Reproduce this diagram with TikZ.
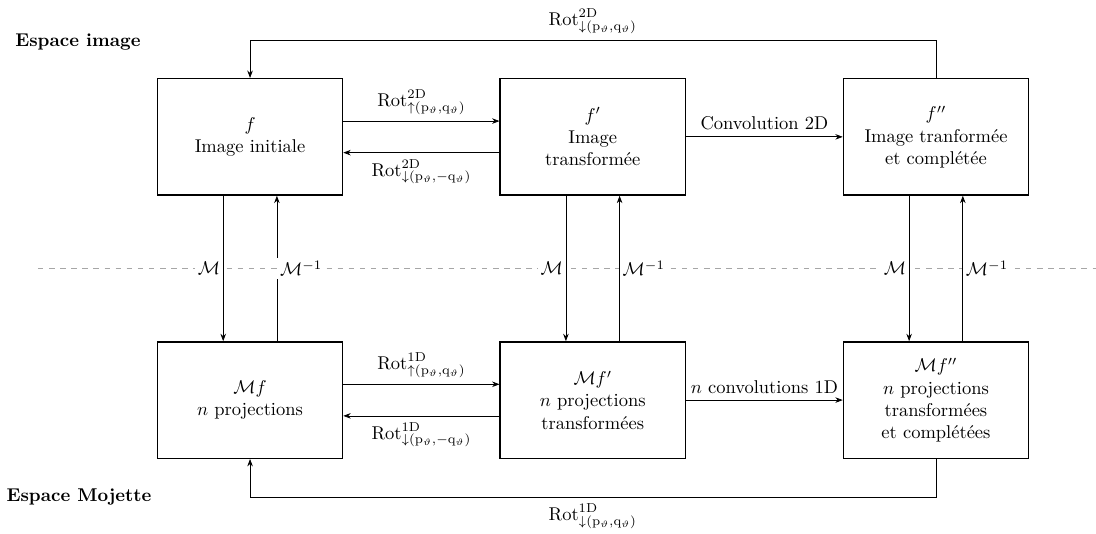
\documentclass[tikz,border=0pt]{standalone}
\usepackage{amsmath}
\usetikzlibrary{arrows.meta}

\tikzset{
  boite/.style={draw,thick,minimum width=3.515cm,minimum height=2.21cm,align=center},
  fleche/.style={-{Stealth[length=4pt,width=3pt]}},
  etiq/.style={fill=white,inner sep=1.5pt}
}

\begin{document}
\begin{tikzpicture}[x=1cm,y=1cm]
\useasboundingbox (0,0) rectangle (20.82,10.13);
\node[font=\bfseries] at (1.48,9.33){Espace image};\node[font=\bfseries] at (1.5,0.68){Espace Mojette};
% espace image
\node[boite] (l1) at (4.75,7.53){$f$\\Image initiale};
\node[boite] (m1) at (11.26,7.53){$f'$\\Image\\transformée};
\node[boite] (r1) at (17.78,7.53){$f''$\\Image tranformée\\et complétée};
% espace Mojette
\node[boite] (l2) at (4.75,2.53){$\mathcal{M}f$\\$n$ projections};
\node[boite] (m2) at (11.26,2.53){$\mathcal{M}f'$\\$n$ projections\\transformées};
\node[boite] (r2) at (17.78,2.53){$\mathcal{M}f''$\\$n$ projections\\transformées\\et complétées};
\coordinate (sepg) at (0.72,5.035);\coordinate (sepd) at (20.82,5.035);
\draw[gray!70,dashed] (sepg)--(sepd);
\foreach \n in {l,m,r}{
  \draw[fleche] ([xshift=-5.1mm]\n1.south)--([xshift=-5.1mm]\n2.north);
  \draw[fleche] ([xshift=5.1mm]\n2.north)--([xshift=5.1mm]\n1.south);
  \node[etiq,anchor=east] at ([xshift=-5.1mm]\n1.south |- sepg){$\mathcal{M}$};
  \node[etiq,anchor=west] at ([xshift=5.1mm]\n1.south |- sepg){$\mathcal{M}^{-1}$};
}
\draw[fleche] ([yshift=3mm]l1.east)--([yshift=3mm]m1.west) node[midway,above]{$\mathrm{Rot}^{\mathrm{2D}}_{\uparrow(\mathrm{p}_\vartheta,\mathrm{q}_\vartheta)}$};
\draw[fleche] ([yshift=-3mm]m1.west)--([yshift=-3mm]l1.east) node[midway,below]{$\mathrm{Rot}^{\mathrm{2D}}_{\downarrow(\mathrm{p}_\vartheta,-\mathrm{q}_\vartheta)}$};
\draw[fleche] (m1)--(r1) node[midway,above]{Convolution 2D};
\draw[fleche] ([yshift=3mm]l2.east)--([yshift=3mm]m2.west) node[midway,above]{$\mathrm{Rot}^{\mathrm{1D}}_{\uparrow(\mathrm{p}_\vartheta,\mathrm{q}_\vartheta)}$};
\draw[fleche] ([yshift=-3mm]m2.west)--([yshift=-3mm]l2.east) node[midway,below]{$\mathrm{Rot}^{\mathrm{1D}}_{\downarrow(\mathrm{p}_\vartheta,-\mathrm{q}_\vartheta)}$};
\draw[fleche] (m2)--(r2) node[midway,above]{$n$ convolutions 1D};
% boucles
\coordinate (haut) at (0,9.37);\coordinate (bas) at (0,0.68);
\draw[fleche] (r1.north)|-(haut -| l1.north)--(l1.north);
\node[above] at (haut -| m1){$\mathrm{Rot}^{\mathrm{2D}}_{\downarrow(\mathrm{p}_\vartheta,\mathrm{q}_\vartheta)}$};
\draw[fleche] (r2.south)|-(bas -| l2.south)--(l2.south);
\node[below] at (bas -| m2){$\mathrm{Rot}^{\mathrm{1D}}_{\downarrow(\mathrm{p}_\vartheta,\mathrm{q}_\vartheta)}$};
\end{tikzpicture}
\end{document}
